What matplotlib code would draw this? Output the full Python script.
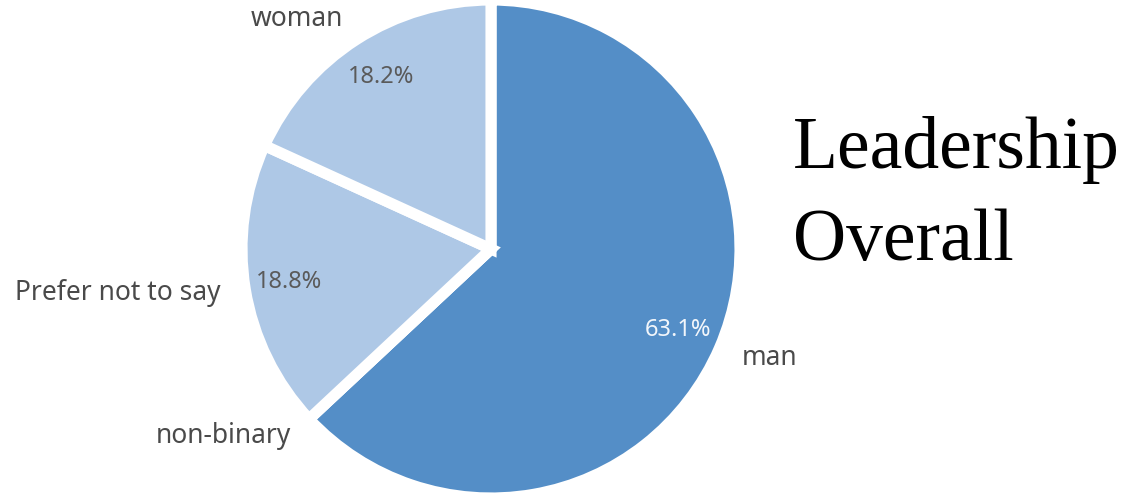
import numpy as np
import matplotlib
matplotlib.use('Agg')
from matplotlib import pyplot as plt

# leadership by gender, share of respondents (%)
categorias = ['man', 'non-binary', 'Prefer not to say', 'woman']
valores = [63.1, 0.0, 18.8, 18.2]
cores = ['#548EC7', '#548EC7', '#AEC8E6', '#AEC8E6']
cor_pct = ['#F2F6FB', '#5A5A5A', '#5A5A5A', '#5A5A5A']

W, H = 1130, 494
cx, cy, R = 491, 249, 249   # centro e raio em pixels

fig = plt.figure(figsize=(W / 100, H / 100), dpi=100)
ax = fig.add_axes([0, 0, 1, 1])

wedges, textos, pcts = ax.pie(
    valores, labels=categorias, colors=cores, startangle=90, counterclock=False,
    autopct='%.1f%%', pctdistance=0.82, labeldistance=1.1,
    wedgeprops=dict(edgecolor='white', linewidth=8),
    textprops=dict(fontsize=19, color='#4A4A4A', family=['Noto Sans', 'DejaVu Sans']))

# rotulo de porcentagem com o valor informado (sem renormalizar)
for t, v, c in zip(pcts, valores, cor_pct):
    t.set_text(f'{v:.1f}%' if v > 0 else '')
    t.set_color(c)
    t.set_fontsize(17)

ax.set_aspect('auto')
ax.set_xlim(-cx / R, (W - cx) / R)
ax.set_ylim(-(H - cy) / R, cy / R)
ax.axis('off')

fig.text(793 / W, 1 - 168 / H, 'Leadership', ha='left', va='baseline',
         fontsize=53, family='Liberation Serif', color='black')
fig.text(793 / W, 1 - 260 / H, 'Overall', ha='left', va='baseline',
         fontsize=53, family='Liberation Serif', color='black')

plt.savefig('out.png', dpi=100)
